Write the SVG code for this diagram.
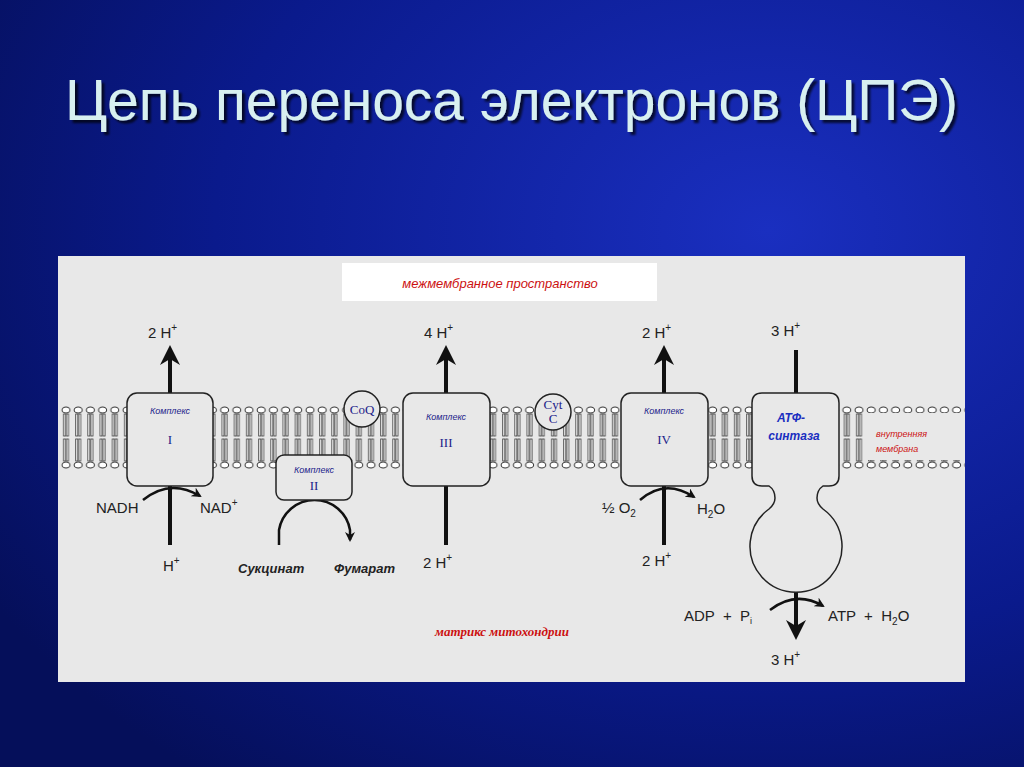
<svg xmlns="http://www.w3.org/2000/svg" width="1024" height="767" viewBox="0 0 1024 767">
<defs>
<radialGradient id="bg" cx="0.75" cy="0.3" r="0.9">
<stop offset="0" stop-color="#1a2fc0"/><stop offset="0.6" stop-color="#0a1a8c"/><stop offset="1" stop-color="#050f5a"/>
</radialGradient>
<filter id="sh" x="-5%" y="-20%" width="110%" height="140%"><feDropShadow dx="3" dy="3" stdDeviation="1" flood-color="#000" flood-opacity="0.7"/></filter>
<pattern id="lip" x="60" y="402" width="12.2" height="70" patternUnits="userSpaceOnUse">
<ellipse cx="6" cy="8" rx="4" ry="3" fill="#fff" stroke="#333" stroke-width="1"/>
<rect x="3.5" y="12" width="2" height="22" fill="#fff" stroke="#333" stroke-width="0.8"/>
<rect x="6.5" y="12" width="2" height="22" fill="#fff" stroke="#333" stroke-width="0.8"/>
<rect x="3.5" y="37" width="2" height="22" fill="#fff" stroke="#333" stroke-width="0.8"/>
<rect x="6.5" y="37" width="2" height="22" fill="#fff" stroke="#333" stroke-width="0.8"/>
<ellipse cx="6" cy="63" rx="4" ry="3" fill="#fff" stroke="#333" stroke-width="1"/>
</pattern>
<marker id="ah" viewBox="0 0 10 10" refX="5" refY="5" markerWidth="5" markerHeight="5" orient="auto"><path d="M0,0 L10,5 L0,10 L3,5z" fill="#111"/></marker>
<marker id="ahs" viewBox="0 0 10 10" refX="8" refY="5" markerWidth="4" markerHeight="4" orient="auto"><path d="M0,0 L10,5 L0,10 L3,5z" fill="#111"/></marker>
<style>
.t{font-family:"Liberation Sans",Arial,sans-serif;fill:#222;font-size:15px;white-space:pre}
.s{font-family:"Liberation Serif",serif;fill:#22228a;font-size:13px}
.k{font-family:"Liberation Sans",Arial,sans-serif;fill:#22228a;font-size:9px;font-style:italic}
.box{fill:#e8e8e8;stroke:#222;stroke-width:1.5}
.ln{stroke:#111;stroke-width:4;fill:none}
.cv{stroke:#111;stroke-width:2.5;fill:none}
.b{font-family:"Liberation Sans",Arial,sans-serif;font-weight:bold;font-style:italic;fill:#222;font-size:13px}
</style>
</defs>
<rect width="1024" height="767" fill="url(#bg)"/>
<text x="65" y="120" font-family="Liberation Sans,Arial,sans-serif" font-size="57" fill="#d8f0f0" filter="url(#sh)" textLength="893">Цепь переноса электронов (ЦПЭ)</text>
<rect x="58" y="256" width="907" height="426" fill="#e8e8e8"/>
<rect x="342" y="263" width="315" height="38" fill="#fff"/>
<text x="500" y="288" text-anchor="middle" font-family="Liberation Sans,Arial,sans-serif" font-size="13" font-style="italic" fill="#cc1111">межмембранное пространство</text>
<rect x="60" y="402" width="905" height="70" fill="url(#lip)"/>
<rect x="866" y="413" width="99" height="47" fill="#e8e8e8"/>
<g id="connectors">
<line class="ln" x1="170" y1="545" x2="170" y2="355" marker-end="url(#ah)"/>
<line class="ln" x1="446" y1="545" x2="446" y2="355" marker-end="url(#ah)"/>
<line class="ln" x1="664" y1="545" x2="664" y2="355" marker-end="url(#ah)"/>
<line class="ln" x1="796" y1="350" x2="796" y2="395"/>
<line class="ln" x1="796" y1="590" x2="796" y2="630" marker-end="url(#ah)"/>
<path class="cv" d="M143,500 Q170,478 200,496" marker-end="url(#ahs)"/>
<path class="cv" d="M640,500 Q665,478 694,497" marker-end="url(#ahs)"/>
<path class="cv" d="M770,610 Q796,590 823,606" marker-end="url(#ahs)"/>
<path class="cv" d="M279,545 L279,530 A36,36 0 0 1 350,530 L350,540" marker-end="url(#ahs)"/>
</g>
<g id="c1"><rect class="box" x="127" y="393" width="86" height="93" rx="10"/><text class="k" x="170" y="414" text-anchor="middle">Комплекс</text><text class="s" x="170" y="444" text-anchor="middle">I</text></g>
<g id="c2"><rect class="box" x="276" y="455" width="76" height="45" rx="8"/><text class="k" x="314" y="473" text-anchor="middle">Комплекс</text><text class="s" x="314" y="490" text-anchor="middle">II</text></g>
<g id="c3"><rect class="box" x="403" y="393" width="87" height="93" rx="10"/><text class="k" x="446" y="420" text-anchor="middle">Комплекс</text><text class="s" x="446" y="447" text-anchor="middle">III</text></g>
<g id="c4"><rect class="box" x="621" y="393" width="87" height="93" rx="10"/><text class="k" x="664" y="414" text-anchor="middle">Комплекс</text><text class="s" x="664" y="444" text-anchor="middle">IV</text></g>
<g id="coq"><circle cx="362" cy="409" r="18" fill="#e8e8e8" stroke="#222" stroke-width="1.5"/><text class="s" x="362" y="414" text-anchor="middle">CoQ</text></g>
<g id="cyt"><circle cx="553" cy="412" r="18" fill="#e8e8e8" stroke="#222" stroke-width="1.5"/><text class="s" x="553" y="409" text-anchor="middle">Cyt</text><text class="s" x="553" y="423" text-anchor="middle">C</text></g>
<g id="atp"><path class="box" d="M762,393 H829 Q839,393 839,403 V476 Q839,486 829,486 H823 Q817,490 817,498 Q817,504 823,509 A46,46 0 1 1 769,509 Q775,504 775,498 Q775,490 769,486 H762 Q752,486 752,476 V403 Q752,393 762,393 Z"/>
<text x="791" y="422" text-anchor="middle" font-family="Liberation Sans,Arial,sans-serif" font-weight="bold" font-style="italic" font-size="12" fill="#1a2ec0">АТФ-</text>
<text x="794" y="440" text-anchor="middle" font-family="Liberation Sans,Arial,sans-serif" font-weight="bold" font-style="italic" font-size="12" fill="#1a2ec0">синтаза</text></g>
<text x="876" y="437" font-family="Liberation Sans,Arial,sans-serif" font-style="italic" font-size="9" fill="#cc1111">внутренняя</text>
<text x="876" y="452" font-family="Liberation Sans,Arial,sans-serif" font-style="italic" font-size="9" fill="#cc1111">мембрана</text>
<text class="t" x="148" y="338">2 H<tspan dy="-7" font-size="10">+</tspan></text>
<text class="t" x="424" y="338">4 H<tspan dy="-7" font-size="10">+</tspan></text>
<text class="t" x="642" y="338">2 H<tspan dy="-7" font-size="10">+</tspan></text>
<text class="t" x="771" y="336">3 H<tspan dy="-7" font-size="10">+</tspan></text>
<text class="t" x="96" y="513">NADH</text>
<text class="t" x="200" y="513">NAD<tspan dy="-7" font-size="10">+</tspan></text>
<text class="t" x="163" y="571">H<tspan dy="-7" font-size="10">+</tspan></text>
<text class="t" x="423" y="568">2 H<tspan dy="-7" font-size="10">+</tspan></text>
<text class="t" x="642" y="566">2 H<tspan dy="-7" font-size="10">+</tspan></text>
<text class="t" x="602" y="513">½ O<tspan dy="4" font-size="10">2</tspan></text>
<text class="t" x="697" y="514">H<tspan dy="4" font-size="10">2</tspan><tspan dy="-4">O</tspan></text>
<text class="t" x="684" y="621">ADP  +  P<tspan dy="3" font-size="9">i</tspan></text>
<text class="t" x="828" y="621">ATP  +  H<tspan dy="4" font-size="10">2</tspan><tspan dy="-4">O</tspan></text>
<text class="t" x="771" y="665">3 H<tspan dy="-7" font-size="10">+</tspan></text>
<text class="b" x="238" y="573">Сукцинат</text>
<text class="b" x="334" y="573">Фумарат</text>
<text x="502" y="636" text-anchor="middle" font-family="Liberation Serif,serif" font-weight="bold" font-style="italic" font-size="13" fill="#cc1111">матрикс митохондрии</text>
</svg>
